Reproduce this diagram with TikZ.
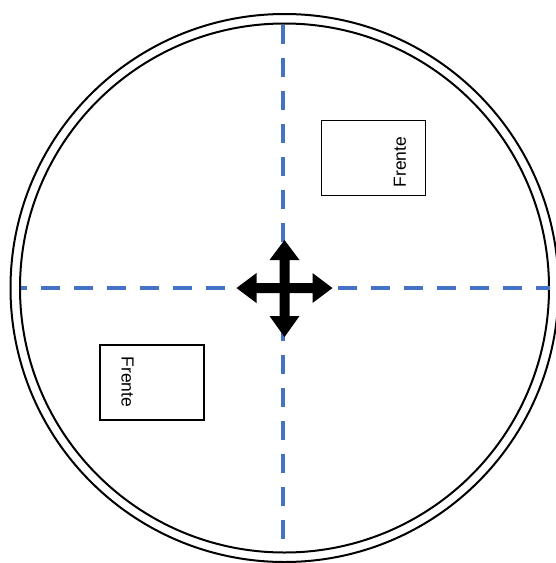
\documentclass[tikz,border=0pt]{standalone}
\usepackage{fontspec}
\setmainfont{Liberation Sans}
\definecolor{dashblue}{HTML}{4472C4}
\begin{document}
\begin{tikzpicture}[x=1pt,y=-1pt,
  ring/.style={circle,draw=black,line width=2pt,inner sep=0pt,fill=none},
  axis/.style={draw=dashblue,line width=3.6pt,dash pattern=on 19pt off 14pt},
  tag/.style={draw=black,line width=1.3pt,minimum width=104pt,minimum height=75pt,inner sep=0pt},
  label/.style={font=\fontsize{17.5}{20}\selectfont,inner sep=0pt}]
\useasboundingbox (0,0) rectangle (556,563);
\coordinate (c) at (284.5,288);
\node[ring,minimum size=548pt] (outer) at (c) {};
\node[ring,minimum size=529pt] (inner) at (c) {};
\coordinate (top) at (283,25);
\coordinate (bot) at (283,552);
\coordinate (lft) at (21,288);
\coordinate (rgt) at (550,288);
\draw[axis,dash phase=0pt] (top) -- (bot);
\draw[axis,dash phase=13pt] (lft) -- (rgt);
\node[tag] (box1) at (373.5,158) {};
\node[label,rotate=90] (t1) at (400,162) {Frente};
\node[tag] (box2) at (152,382.5) {};
\node[label,rotate=-90] (t2) at (127.5,382) {Frente};
\fill[black,shift={(284.5,288)},y=1pt] (0,48) -- (15,28) -- (5,28) -- (5,5) -- (28,5) -- (28,15) -- (48,0) -- (28,-15) -- (28,-5) -- (5,-5) -- (5,-28) -- (15,-28) -- (0,-49) -- (-15,-28) -- (-5,-28) -- (-5,-5) -- (-28,-5) -- (-28,-15) -- (-48,0) -- (-28,15) -- (-28,5) -- (-5,5) -- (-5,28) -- (-15,28) -- cycle;
\end{tikzpicture}
\end{document}
